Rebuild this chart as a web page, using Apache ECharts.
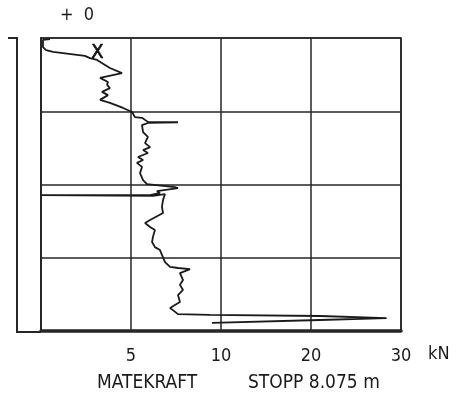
<!DOCTYPE html>
<html>
<head>
<meta charset="utf-8">
<script src="https://cdn.jsdelivr.net/npm/echarts@6/dist/echarts.min.js"></script>
<style>
html,body{margin:0;padding:0;background:#fff;}
#c{width:459px;height:398px;}
</style>
</head>
<body>
<div id="c"></div>
<script>
// Feed force (kN) vs depth (m)
const forceKN = [0.5,0.11,0.11,0.28,0.67,2.44,2.72,3.11,3.83,4.5,3.28,3.72,3.67,3.83,3.39,3.72,3.28,3.83,4.56,5.06,
  5.22,5.61,5.94,7.61,5.94,5.61,5.67,5.94,5.78,6.06,5.67,5.94,5.39,5.67,5.33,5.61,5.5,5.67,5.89,7.44,
  7.61,6.44,6.61,6.06,0,0,6.22,6.89,6.78,6.72,6.78,6.06,5.78,6.06,6.33,6.22,6.17,6.33,6.61,6.72,
  6.89,7.17,7.61,8.28,7.72,7.89,7.72,7.89,7.61,7.72,7.44,7.17,7.33,7.61,9.39,21.0,28.4,28.4,21.0,9.5];
const depthM = [0.03,0.05,0.25,0.33,0.38,0.49,0.55,0.60,0.82,0.96,1.09,1.20,1.28,1.37,1.47,1.56,1.69,1.77,1.91,2.02,
  2.16,2.18,2.29,2.30,2.32,2.38,2.57,2.70,2.87,2.98,3.06,3.14,3.25,3.33,3.41,3.52,3.69,3.88,3.99,4.07,
  4.10,4.18,4.23,4.29,4.29,4.31,4.31,4.26,4.42,4.61,4.78,4.97,5.05,5.16,5.24,5.43,5.57,5.71,5.79,5.92,
  6.12,6.25,6.28,6.31,6.42,6.61,6.74,6.88,7.02,7.21,7.29,7.37,7.43,7.54,7.56,7.59,7.65,7.67,7.70,7.78];
const tickValuesKN = [0, 5, 10, 20, 30];
const tickLabels = ['', '5', '10', '20', '30'];
const markerPoint = [3.14, 0.40];
const markerText = 'X';
const titleLeft = 'MATEKRAFT';
const titleRight = 'STOPP 8.075 m';
const unitText = 'kN';
const topText = '+  0';

// piecewise force scale: 0-10 kN over two grid cells, 10-30 kN over two grid cells
function toU(v){ return v <= 10 ? v / 5 : 2 + (v - 10) / 10; }

const lineData = forceKN.map((v, i) => [toU(v), depthM[i]]);
const FONT = '"Liberation Sans Narrow","DejaVu Sans Condensed",sans-serif';
const INK = '#1a1a1a';

const chart = echarts.init(document.getElementById('c'));
chart.setOption({
  backgroundColor: '#ffffff',
  animation: false,
  grid: {left: 41, right: 58, top: 38, bottom: 67, show: true, borderColor: '#262626', borderWidth: 1.6},
  xAxis: {
    type: 'value', min: 0, max: 4, interval: 1,
    axisLine: {show: true, onZero: false, lineStyle: {color: '#262626', width: 3.5}},
    axisTick: {show: false},
    splitLine: {show: true, lineStyle: {color: '#262626', width: 1.5}},
    axisLabel: {
      margin: 16, color: INK, fontFamily: FONT, fontSize: 18,
      formatter: function(u){ const i = Math.round(u); return tickLabels[i] !== undefined ? tickLabels[i] : ''; }
    }
  },
  yAxis: {
    type: 'value', min: 0, max: 8, interval: 2, inverse: true,
    axisLine: {show: true, lineStyle: {color: '#262626', width: 2}},
    axisTick: {show: false},
    axisLabel: {show: false},
    splitLine: {show: true, lineStyle: {color: '#262626', width: 1.5}}
  },
  series: [
    {
      type: 'line', data: lineData, symbol: 'none', silent: true,
      lineStyle: {color: INK, width: 1.8}
    },
    {
      type: 'scatter', data: [[toU(markerPoint[0]), markerPoint[1]]], symbolSize: 0, silent: true,
      itemStyle: {opacity: 1},
      label: {show: true, position: 'inside', formatter: markerText, color: '#111', opacity: 1,
              fontFamily: FONT, fontSize: 20, textBorderColor: '#111', textBorderWidth: 0.6}
    }
  ],
  graphic: [
    {type: 'polyline', silent: true, shape: {points: [[8, 38], [17, 38], [17, 332], [41, 332]]},
     style: {stroke: '#262626', lineWidth: 2, fill: null}},
    {type: 'text', left: 60, top: 6, style: {text: topText, fill: INK, font: '18px ' + FONT}},
    {type: 'text', left: 428, top: 345, style: {text: unitText, fill: INK, font: '18px ' + FONT}},
    {type: 'text', left: 97, top: 374, style: {text: titleLeft, fill: INK, font: '19px ' + FONT}},
    {type: 'text', left: 248, top: 374, style: {text: titleRight, fill: INK, font: '19px ' + FONT}}
  ]
});
</script>
</body>
</html>
